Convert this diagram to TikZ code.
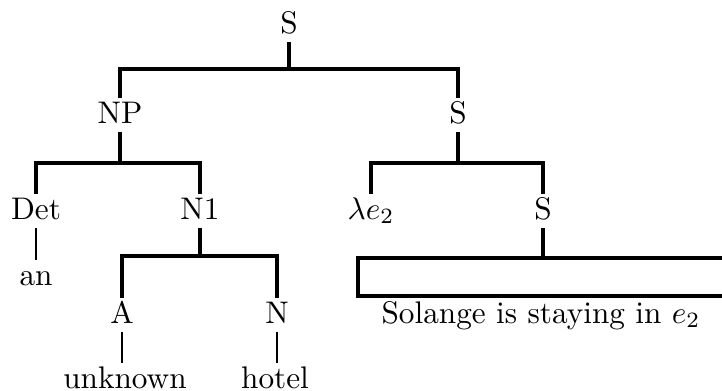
\documentclass[tikz,border=0pt]{standalone}
\begin{document}
\begin{tikzpicture}[x=0.32pt,y=-0.32pt,
  lbl/.style={anchor=base, inner sep=0pt, outer sep=1pt, text height=7pt, text depth=2pt},
  bar/.style={line width=1.2pt},
  leg/.style={line width=0.95pt}]
\useasboundingbox (0,0) rectangle (722,390);

% levels of the horizontal brackets
\coordinate (l1) at (0,69);
\coordinate (l2) at (0,163);
\coordinate (l3) at (0,256);

% labels
\node[lbl] (s0)  at (289,33)  {S};
\node[lbl] (np)  at (120,123) {NP};
\node[lbl] (s1)  at (458,123) {S};
\node[lbl] (det) at (36,219)  {Det};
\node[lbl] (n1)  at (200,219) {N1};
\node[lbl] (an)  at (36,285)  {an};
\node[lbl] (a)   at (122,323) {A};
\node[lbl] (n)   at (277,323) {N};
\node[lbl] (unk) at (125,388) {unknown};
\node[lbl] (hot) at (275,388) {hotel};
\node[lbl] (lam) at (371,219) {$\lambda e_2$};
\node[lbl] (s2)  at (543,219) {S};
\node[draw, bar, inner sep=0pt, minimum width=129.3pt, minimum height=12.16pt,
      anchor=north west] (box) at (356,256) {};
\node[lbl] (sol) at (541,323) {Solange is staying in $e_2$};

% S -> NP S
\draw[bar] (s0.south) -- (s0 |- l1);
\draw[bar] (np.north) |- (s1 |- l1) -- (s1.north);
% NP -> Det N1
\draw[bar] (np.south) -- (np |- l2);
\draw[bar] (det.north) |- (n1 |- l2) -- (n1.north);
\draw[leg] (det.south) -- (an.north);
% N1 -> A N
\draw[bar] (n1.south) -- (n1 |- l3);
\draw[bar] (a.north) |- (n |- l3) -- (n.north);
\draw[leg] (a.south) -- (a |- unk.north);
\draw[leg] (n.south) -- (n |- hot.north);
% S -> lambda e2 S
\draw[bar] (s1.south) -- (s1 |- l2);
\draw[bar] (lam.north) |- (s2 |- l2) -- (s2.north);
\draw[bar] (s2.south) -- (s2 |- box.north);
\end{tikzpicture}
\end{document}
